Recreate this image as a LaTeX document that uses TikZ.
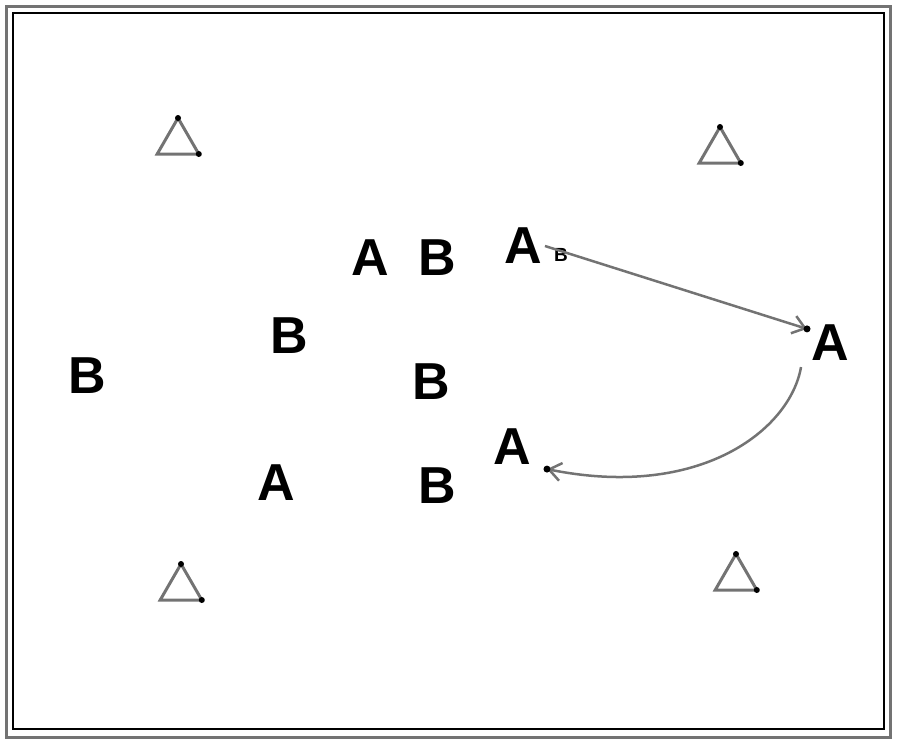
\documentclass[tikz,border=0pt]{standalone}
\usepackage{fontspec}
\setmainfont{Liberation Sans}
\usetikzlibrary{shapes.geometric,arrows.meta}
\tikzset{
  player/.style={inner sep=0pt,font=\fontsize{52}{52}\selectfont\bfseries},
  tag/.style={inner sep=0pt,font=\fontsize{19}{19}\selectfont\bfseries},
  cone/.style={regular polygon,regular polygon sides=3,minimum size=48pt,inner sep=0pt,outer sep=0pt,draw=black!55,line width=3pt},
  run/.style={draw=black!55,line width=2.5pt,-{Straight Barb[length=12pt,width=18pt]}},
}
\begin{document}
\begin{tikzpicture}[x=1pt,y=-1pt]
\useasboundingbox (0,0) rectangle (900,744);
\draw[black!55,line width=3pt] (6,6) rectangle (890,737);
\draw[line width=1.5pt] (13,13) rectangle (884,729);

\node[cone] (c1) at (178,142) {};
\node[cone] (c2) at (720,151) {};
\node[cone] (c3) at (181,588) {};
\node[cone] (c4) at (736,578) {};
\fill (c1.corner 1) circle (3pt);
\fill (c1.corner 3) circle (3pt);
\fill (c2.corner 1) circle (3pt);
\fill (c2.corner 3) circle (3pt);
\fill (c3.corner 1) circle (3pt);
\fill (c3.corner 3) circle (3pt);
\fill (c4.corner 1) circle (3pt);
\fill (c4.corner 3) circle (3pt);

\node[player] (a1) at (370,258) {A};
\node[player] (b1) at (437,258) {B};
\node[player] (a2) at (523,246) {A};
\node[tag] (t1) at (561,255) {B};
\node[player] (a3) at (830,343) {A};
\node[player] (b2) at (289,336) {B};
\node[player] (b3) at (87,376) {B};
\node[player] (b4) at (431,382) {B};
\node[player] (a4) at (512,447) {A};
\node[player] (a5) at (276,483) {A};
\node[player] (b5) at (437,486) {B};

\draw[run] ([xshift=3pt]a2.east) -- ([xshift=-4pt,yshift=-4pt]a3.north west);
\fill ([xshift=-4pt,yshift=-4pt]a3.north west) circle (3.5pt);
\draw[run] ([xshift=-10pt,yshift=-6pt]a3.south west) .. controls (790,430) and (700,500) .. ([xshift=16pt,yshift=-4pt]a4.south east);
\fill ([xshift=16pt,yshift=-4pt]a4.south east) circle (3.5pt);

\end{tikzpicture}
\end{document}
